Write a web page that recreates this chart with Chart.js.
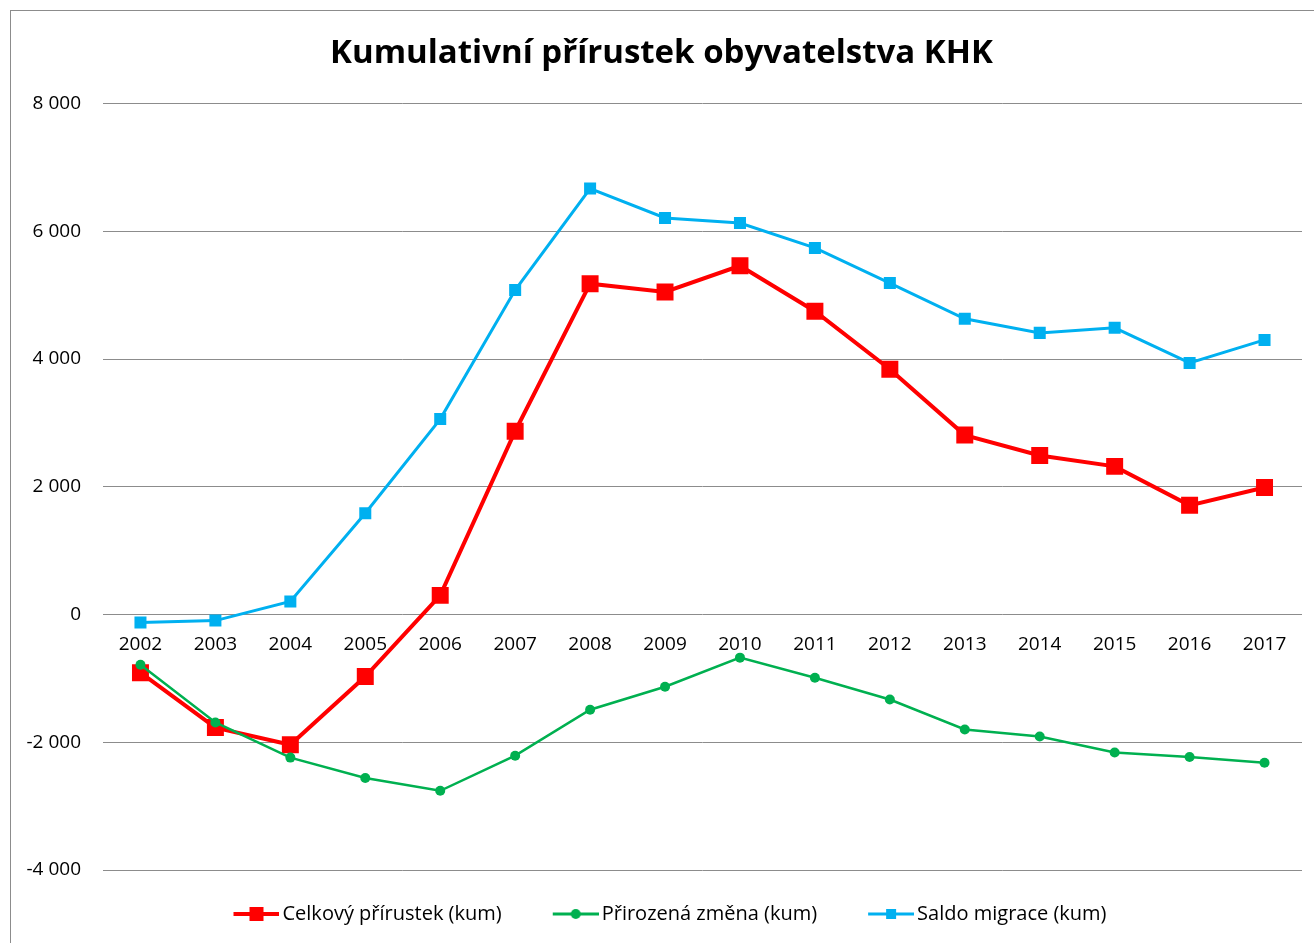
<!DOCTYPE html>
<html>
<head>
<meta charset="utf-8">
<script src="https://cdn.jsdelivr.net/npm/chart.js@4"></script>
<style>
  html, body { margin: 0; padding: 0; background: #fff; overflow: hidden; }
  #box {
    position: absolute; left: 10px; top: 10px;
    width: 1320px; height: 950px;
    border: 1px solid #8c8c8c; box-sizing: border-box;
  }
  #wrap { position: absolute; left: 11px; top: 13px; width: 1303px; height: 930px; }
</style>
</head>
<body>
<div id="box"></div>
<div id="wrap"><canvas id="myChart"></canvas></div>
<script>
// years on the x axis
const years = ['2002', '2003', '2004', '2005', '2006', '2007', '2008', '2009',
               '2010', '2011', '2012', '2013', '2014', '2015', '2016', '2017'];

// cumulative values
const celkovy = [-910, -1770, -2040, -970, 300, 2870, 5180, 5050,
                 5460, 4750, 3840, 2810, 2490, 2320, 1710, 1990];
const prirozena = [-785, -1690, -2240, -2560, -2760, -2210, -1490, -1130,
                   -675, -990, -1330, -1800, -1910, -2160, -2230, -2320];
const saldo = [-125, -95, 205, 1585, 3060, 5080, 6670, 6210,
               6130, 5740, 5190, 4630, 4410, 4490, 3940, 4300];

const seriesNames = ['Celkový přírustek (kum)', 'Přirozená změna (kum)', 'Saldo migrace (kum)'];
const yTicks = [-4000, -2000, 0, 2000, 4000, 6000, 8000];

const FONT = '"Open Sans", sans-serif';

// little legend pictures: a line with the marker in the middle (like excel)
// left part of the canvas stays empty so the gap between items is wider
const legendIcon = (color, lineW, marker) => {
  const c = document.createElement('canvas');
  c.width = 70; c.height = 16;
  const g = c.getContext('2d');
  const x0 = 24, x1 = 70, mid = (x0 + x1) / 2;
  g.strokeStyle = color;
  g.lineWidth = lineW;
  g.beginPath(); g.moveTo(x0, 8); g.lineTo(x1, 8); g.stroke();
  g.fillStyle = color;
  if (marker === 'rect') {
    g.fillRect(mid - 7, 1, 14, 14);
  } else if (marker === 'circle') {
    g.beginPath(); g.arc(mid, 8, 5, 0, Math.PI * 2); g.fill();
  } else {
    g.fillRect(mid - 5, 3, 10, 10);
  }
  return c;
};

const icons = [
  legendIcon('#ff0000', 4, 'rect'),
  legendIcon('#00b050', 3, 'circle'),
  legendIcon('#00b0f0', 3, 'small')
];

const ctx = document.getElementById('myChart');

new Chart(ctx, {
  type: 'line',
  data: {
    labels: years,
    datasets: [
      {
        label: seriesNames[0],
        data: celkovy,
        borderColor: '#ff0000',
        backgroundColor: '#ff0000',
        borderWidth: 4,
        pointStyle: 'rect',
        pointRadius: 12,
        pointHoverRadius: 12,
        pointBorderWidth: 0,
        tension: 0,
        order: 3
      },
      {
        label: seriesNames[1],
        data: prirozena,
        borderColor: '#00b050',
        backgroundColor: '#00b050',
        borderWidth: 2.5,
        pointStyle: 'circle',
        pointRadius: 5,
        pointHoverRadius: 5,
        pointBorderWidth: 0,
        tension: 0,
        order: 2
      },
      {
        label: seriesNames[2],
        data: saldo,
        borderColor: '#00b0f0',
        backgroundColor: '#00b0f0',
        borderWidth: 3,
        pointStyle: 'rect',
        pointRadius: 8.5,
        pointHoverRadius: 8.5,
        pointBorderWidth: 0,
        tension: 0,
        order: 1
      }
    ]
  },
  options: {
    responsive: true,
    maintainAspectRatio: false,
    animation: false,
    layout: { padding: { top: 0, right: 2, bottom: 9, left: 0 } },
    plugins: {
      title: {
        display: true,
        text: 'Kumulativní přírustek obyvatelstva KHK',
        color: '#000',
        font: { family: FONT, size: 33, weight: 'bold' },
        padding: { top: 21, bottom: 30 }
      },
      legend: {
        position: 'bottom',
        labels: {
          color: '#000',
          font: { family: FONT, size: 20 },
          usePointStyle: true,
          pointStyleWidth: 56,
          padding: 34,
          generateLabels: chart => chart.data.datasets.map((ds, i) => ({
            text: ds.label,
            pointStyle: icons[i],
            fillStyle: ds.borderColor,
            strokeStyle: ds.borderColor,
            lineWidth: 0,
            fontColor: '#000',
            hidden: false,
            datasetIndex: i
          }))
        }
      },
      tooltip: { enabled: false }
    },
    scales: {
      x: {
        position: { y: 0 },
        offset: true,
        grid: { display: false, offset: true },
        border: { display: false },
        ticks: {
          color: '#000',
          font: { family: FONT, size: 19 },
          padding: 11,
          maxRotation: 0
        }
      },
      y: {
        min: -4000,
        max: 8000,
        afterFit: scale => { scale.width = 92; },
        afterBuildTicks: scale => { scale.ticks = yTicks.map(v => ({ value: v })); },
        grid: { color: '#8c8c8c', lineWidth: 1, drawTicks: false },
        border: { display: false },
        ticks: {
          color: '#000',
          font: { family: FONT, size: 19 },
          padding: 22,
          callback: v => String(v).replace(/\B(?=(\d{3})+(?!\d))/g, ' ')
        }
      }
    }
  }
});
</script>
</body>
</html>
